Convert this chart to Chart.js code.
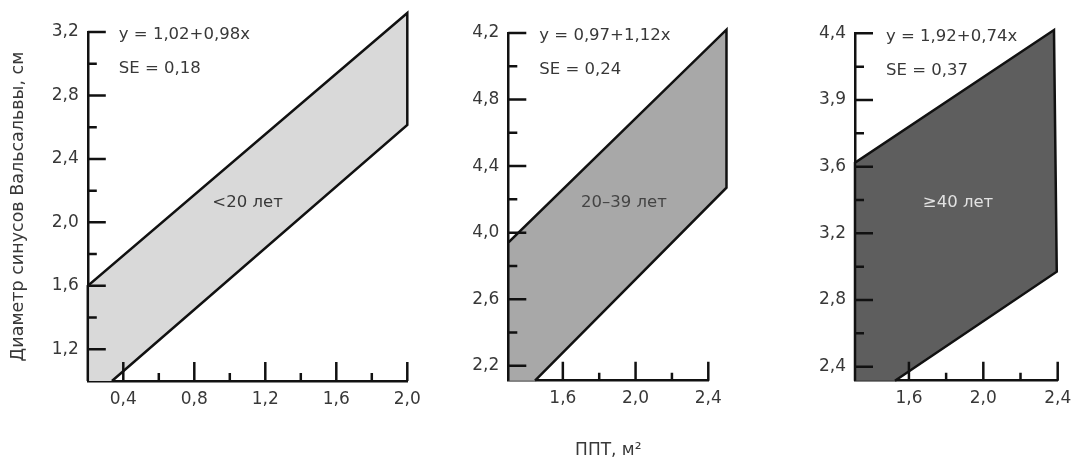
<!DOCTYPE html>
<html>
<head>
<meta charset="utf-8">
<script src="https://cdn.jsdelivr.net/npm/chart.js@4.4.1/dist/chart.umd.min.js"></script>
<style>
html, body { margin: 0; padding: 0; background: #fff; }
#wrap { position: relative; width: 1071px; height: 459px; }
#wrap canvas { position: absolute; left: 0; top: 0; }
</style>
</head>
<body>
<div id="wrap">
<canvas id="c1" width="1071" height="459"></canvas>
<canvas id="c2" width="1071" height="459"></canvas>
<canvas id="c3" width="1071" height="459"></canvas>
</div>
<script>
// <20 лет
const bandX1 = [0.2, 0.2, 2.0, 2.0, 0.336];
const bandY1 = [1.0, 1.6, 3.32, 2.614, 1.0];
const xTicks1 = [0.4, 0.8, 1.2, 1.6, 2.0];
const xMinor1 = [0.6, 1.0, 1.4, 1.8];
const xLabels1 = ["0,4", "0,8", "1,2", "1,6", "2,0"];
const yTicks1 = [1.2, 1.6, 2.0, 2.4, 2.8, 3.2];
const yMinor1 = [1.4, 1.8, 2.2, 2.6, 3.0];
const yLabels1 = ["1,2", "1,6", "2,0", "2,4", "2,8", "3,2"];

// 20–39 лет (tick labels printed as in the source figure)
const bandX2 = [1.3, 1.3, 2.5, 2.5, 1.447];
const bandY2 = [3.11, 3.94, 5.22, 4.27, 3.11];
const xTicks2 = [1.6, 2.0, 2.4];
const xMinor2 = [1.8, 2.2];
const xLabels2 = ["1,6", "2,0", "2,4"];
const yTicks2 = [3.2, 3.6, 4.0, 4.4, 4.8, 5.2];
const yMinor2 = [3.4, 3.8, 4.2, 4.6, 5.0];
const yLabels2 = ["2,2", "2,6", "4,0", "4,4", "4,8", "4,2"];

// ≥40 лет
const bandX3 = [1.31, 1.31, 2.38, 2.395, 1.525];
const bandY3 = [2.316, 3.624, 4.42, 2.97, 2.316];
const xTicks3 = [1.6, 2.0, 2.4];
const xMinor3 = [1.8, 2.2];
const xLabels3 = ["1,6", "2,0", "2,4"];
const yTicks3 = [2.4, 2.8, 3.2, 3.6, 4.0, 4.4];
const yMinor3 = [2.6, 3.0, 3.4, 3.8, 4.2];
const yLabels3 = ["2,4", "2,8", "3,2", "3,6", "3,9", "4,4"];

const FONT = "'DejaVu Sans', sans-serif";
const TXT = "#383838";
const LINE = "#111";
const LW = 2.5;

// fill the band polygon from the points the scatter controller placed
const bandFill = {
  id: "bandFill",
  beforeDatasetDraw(chart, args) {
    const pts = args.meta.data;
    const ctx = chart.ctx;
    ctx.save();
    ctx.beginPath();
    pts.forEach((pt, i) => i ? ctx.lineTo(pt.x, pt.y) : ctx.moveTo(pt.x, pt.y));
    ctx.closePath();
    ctx.fillStyle = args.meta.dataset.options.backgroundColor;
    ctx.fill();
    ctx.restore();
  }
};

// tick marks pointing into the plot
const innerTicks = {
  id: "innerTicks",
  afterDatasetsDraw(chart, args, o) {
    const ctx = chart.ctx, a = chart.chartArea;
    const sx = chart.scales.x, sy = chart.scales.y;
    ctx.save();
    ctx.strokeStyle = LINE;
    ctx.lineWidth = LW;
    ctx.beginPath();
    o.xMajor.forEach(v => { const px = sx.getPixelForValue(v); ctx.moveTo(px, a.bottom); ctx.lineTo(px, a.bottom - 19); });
    o.xMinor.forEach(v => { const px = sx.getPixelForValue(v); ctx.moveTo(px, a.bottom); ctx.lineTo(px, a.bottom - 8); });
    o.yMajor.forEach(v => { const py = sy.getPixelForValue(v); ctx.moveTo(a.left, py); ctx.lineTo(a.left + 18, py); });
    o.yMinor.forEach(v => { const py = sy.getPixelForValue(v); ctx.moveTo(a.left, py); ctx.lineTo(a.left + 9, py); });
    ctx.stroke();
    ctx.restore();
  }
};

const notes = {
  id: "notes",
  afterDraw(chart, args, o) {
    const ctx = chart.ctx, a = chart.chartArea;
    ctx.save();
    ctx.font = "16.5px " + FONT;
    ctx.fillStyle = TXT;
    ctx.textAlign = "left";
    ctx.textBaseline = "middle";
    ctx.fillText(o.eq, a.left + 31, a.top + 3);
    ctx.fillText(o.se, a.left + 31, a.top + 37);
    ctx.textAlign = "center";
    ctx.fillStyle = o.labelColor;
    ctx.fillText(o.label, chart.scales.x.getPixelForValue(o.at[0]), chart.scales.y.getPixelForValue(o.at[1]));
    ctx.restore();
  }
};

function makePanel(id, p) {
  const pts = p.bandX.map((x, i) => ({ x: x, y: p.bandY[i] }));
  return new Chart(document.getElementById(id), {
    type: "scatter",
    data: {
      datasets: [{
        data: pts,
        showLine: true,
        borderColor: LINE,
        borderWidth: LW,
        backgroundColor: p.fill,
        pointRadius: 0,
        clip: false
      }]
    },
    options: {
      responsive: false,
      animation: false,
      events: [],
      layout: { padding: { left: p.pad[0], right: p.pad[1], top: p.pad[2], bottom: 0 } },
      plugins: {
        legend: { display: false },
        tooltip: { enabled: false },
        innerTicks: { xMajor: p.xTicks, xMinor: p.xMinor, yMajor: p.yTicks, yMinor: p.yMinor },
        notes: { eq: p.eq, se: p.se, label: p.label, labelColor: p.labelColor, at: p.at }
      },
      scales: {
        x: {
          type: "linear",
          bounds: "data",
          min: p.xMin,
          max: p.xMax,
          afterBuildTicks: s => { s.ticks = p.xTicks.map(v => ({ value: v })); },
          afterFit: s => { s.height = p.xH; s.paddingLeft = 0; s.paddingRight = 0; },
          grid: { display: false, drawTicks: false },
          border: { color: LINE, width: LW },
          ticks: {
            autoSkip: false,
            maxRotation: 0,
            padding: 8,
            color: TXT,
            font: { family: FONT, size: 17 },
            callback: (v, i) => p.xLabels[i]
          },
          title: {
            display: !!p.xTitle,
            text: p.xTitle || "",
            color: TXT,
            font: { family: FONT, size: 17, lineHeight: 1 },
            padding: { top: 0, bottom: 0 }
          }
        },
        y: {
          type: "linear",
          bounds: "data",
          min: p.yMin,
          max: p.yMax,
          afterBuildTicks: s => { s.ticks = p.yTicks.map(v => ({ value: v })); },
          afterFit: s => { s.width = p.yW; s.paddingTop = 0; s.paddingBottom = 0; },
          grid: { display: false, drawTicks: false },
          border: { color: LINE, width: LW },
          ticks: {
            autoSkip: false,
            padding: 9,
            color: TXT,
            font: { family: FONT, size: 17 },
            callback: (v, i) => p.yLabels[i]
          },
          title: {
            display: !!p.yTitle,
            text: p.yTitle || "",
            color: TXT,
            font: { family: FONT, size: 17.5, lineHeight: 1 },
            padding: { top: 10, bottom: 0 }
          }
        }
      }
    },
    plugins: [bandFill, innerTicks, notes]
  });
}

makePanel("c1", {
  bandX: bandX1, bandY: bandY1, fill: "#d9d9d9",
  xTicks: xTicks1, xMinor: xMinor1, xLabels: xLabels1,
  yTicks: yTicks1, yMinor: yMinor1, yLabels: yLabels1,
  xMin: 0.2, xMax: 2.0, yMin: 1.0, yMax: 3.2,
  pad: [0, 663.7, 32], yW: 87.8, xH: 78,
  yTitle: "Диаметр синусов Вальсальвы, см",
  eq: "y = 1,02+0,98x", se: "SE = 0,18",
  label: "<20 лет", labelColor: TXT, at: [1.1, 2.125]
});

makePanel("c2", {
  bandX: bandX2, bandY: bandY2, fill: "#a8a8a8",
  xTicks: xTicks2, xMinor: xMinor2, xLabels: xLabels2,
  yTicks: yTicks2, yMinor: yMinor2, yLabels: yLabels2,
  xMin: 1.3, xMax: 2.4, yMin: 3.11, yMax: 5.2,
  pad: [448.3, 362.7, 33], yW: 60, xH: 78.3,
  xTitle: "ППТ, м²",
  eq: "y = 0,97+1,12x", se: "SE = 0,24",
  label: "20–39 лет", labelColor: "#444", at: [1.936, 4.179]
});

makePanel("c3", {
  bandX: bandX3, bandY: bandY3, fill: "#5e5e5e",
  xTicks: xTicks3, xMinor: xMinor3, xLabels: xLabels3,
  yTicks: yTicks3, yMinor: yMinor3, yLabels: yLabels3,
  xMin: 1.31, xMax: 2.4, yMin: 2.316, yMax: 4.4,
  pad: [795, 13.3, 33.3], yW: 60, xH: 78.3,
  eq: "y = 1,92+0,74x", se: "SE = 0,37",
  label: "≥40 лет", labelColor: "#e2e2e2", at: [1.864, 3.382]
});
</script>
</body>
</html>
